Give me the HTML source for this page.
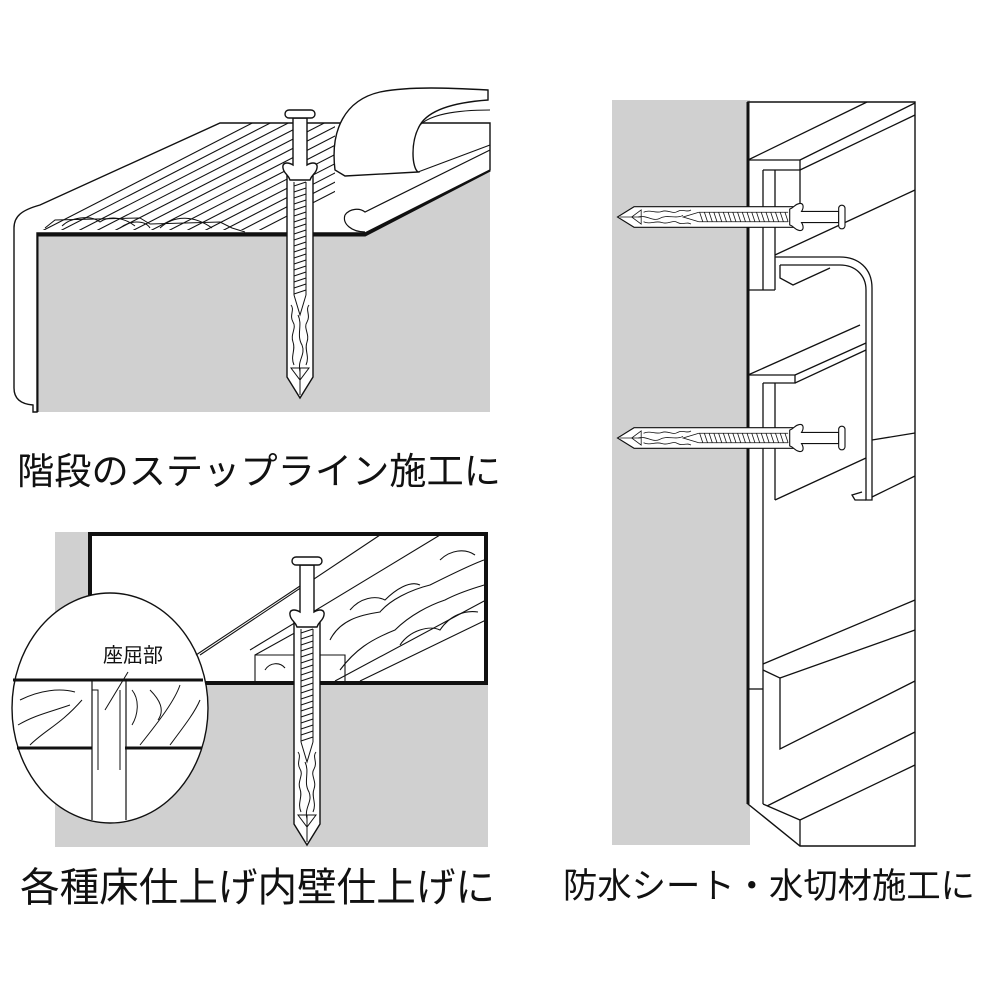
<!DOCTYPE html>
<html><head><meta charset="utf-8">
<style>
html,body{margin:0;padding:0;background:#fff;}
svg{display:block;}
text{font-family:"Liberation Sans","Noto Sans CJK JP",sans-serif;fill:#111;}
</style></head>
<body>
<svg width="1000" height="1000" viewBox="0 0 1000 1000" xmlns="http://www.w3.org/2000/svg">
<defs>
  <g id="nail" stroke="#111" stroke-width="1.4" fill="#fff">
    <polygon points="-13,62 13,62 13,267 0,288 -13,267"/>
    <path d="M-7,8 L-7,55 C-12,52 -18,52 -17,58 C-16,64 -12,64 -10,70 L10,70 C12,64 16,64 17,58 C18,52 12,52 7,55 L7,8 Z"/>
    <rect x="-15" y="0" width="30" height="8" rx="4"/>
    <g stroke-width="1">
      <line x1="-6" y1="72" x2="-6" y2="185"/><line x1="6" y1="72" x2="6" y2="185"/>
      <path d="M-6,76 L6,72 M-6,82 L6,78 M-6,88 L6,84 M-6,94 L6,90 M-6,100 L6,96 M-6,106 L6,102 M-6,112 L6,108 M-6,118 L6,114 M-6,124 L6,120 M-6,130 L6,126 M-6,136 L6,132 M-6,142 L6,138 M-6,148 L6,144 M-6,154 L6,150 M-6,160 L6,156 M-6,166 L6,162 M-6,172 L6,168 M-6,178 L6,174 M-6,184 L6,180"/>
      <path d="M-6,185 L0,205 L6,185" fill="none"/>
      <path d="M-9,195 C-5,200 -11,205 -7,212 C-3,218 -10,224 -7,232 C-4,240 -10,246 -6,255 M9,195 C5,200 11,205 7,212 C3,218 10,224 7,232 C4,240 10,246 6,255 M-2,205 C3,215 -4,225 2,235 C6,245 -3,250 0,262 M-9,258 L9,258 L0,270 Z" fill="none"/>
      <line x1="0" y1="258" x2="0" y2="285"/>
    </g>
  </g>
  <clipPath id="topface"><polygon points="22,212 220,123 335,123 335,200 365,200 365,230 35,230"/></clipPath>
</defs>

<!-- ===== Panel 1 ===== -->
<polygon points="37,235 365,235 490,170 490,412 37,412" fill="#d0d0d0"/>
<!-- nosing -->
<path d="M37,235 L37,412" stroke="#111" stroke-width="3" fill="none"/>
<path d="M37,235 L365,235 L490,170" stroke="#111" stroke-width="3" fill="none"/>
<path d="M33,412 L33,405 C20,404 14,398 14,388 L14,228 C14,216 22,210 40,205 L220,123 L490,123 L490,170 L365,233 L37,233 L37,412 Z" fill="#fff" stroke="#111" stroke-width="1.4"/>
<g clip-path="url(#topface)" stroke="#111" stroke-width="1.1">
  <line x1="40" y1="232" x2="264" y2="117"/><line x1="58" y1="232" x2="282" y2="117"/>
  <line x1="76" y1="232" x2="300" y2="117"/><line x1="94" y1="232" x2="318" y2="117"/>
  <line x1="112" y1="232" x2="336" y2="117"/><line x1="130" y1="232" x2="354" y2="117"/>
  <line x1="148" y1="232" x2="372" y2="117"/><line x1="166" y1="232" x2="390" y2="117"/>
  <line x1="184" y1="232" x2="408" y2="117"/><line x1="202" y1="232" x2="426" y2="117"/>
  <line x1="220" y1="232" x2="444" y2="117"/><line x1="238" y1="232" x2="462" y2="117"/>
  <line x1="256" y1="232" x2="480" y2="117"/>
</g>
<path d="M45,228 L55,220 L140,218 L150,224 L220,222 L232,228 L245,232" fill="none" stroke="#111" stroke-width="1"/>
<path d="M62,226 C70,218 90,214 100,222 C110,215 125,218 135,226 M120,228 C130,220 145,220 150,228 M160,228 C175,214 195,216 212,228" fill="none" stroke="#111" stroke-width="1"/>
<!-- strip groove right -->
<path d="M345,215 C350,208 360,208 365,212 L490,150" fill="none" stroke="#111" stroke-width="1.2"/>
<path d="M345,215 C342,224 352,232 365,232" fill="none" stroke="#111" stroke-width="1.2"/>
<!-- curl -->
<path d="M335,170 C330,130 345,100 380,92 C410,86 450,88 488,90 L488,100 C460,102 430,108 420,125 C410,142 412,168 418,172 L345,176 Z" fill="#fff" stroke="#111" stroke-width="1.4"/>
<path d="M420,125 C430,115 455,110 490,110" fill="none" stroke="#111" stroke-width="1.1"/>
<path d="M418,172 L490,145" fill="none" stroke="#111" stroke-width="1.1"/>
<use href="#nail" transform="translate(300,110)"/>
<text x="17" y="484" font-size="37" textLength="484" lengthAdjust="spacingAndGlyphs">階段のステップライン施工に</text>

<!-- ===== Panel 2 ===== -->
<rect x="55" y="532" width="433" height="315" fill="#d0d0d0"/>
<rect x="90" y="534" width="396" height="149" fill="#fff" stroke="#111" stroke-width="4"/>
<g stroke="#111" stroke-width="1.1" fill="none">
  <line x1="200" y1="655" x2="380" y2="535"/>
  <line x1="250" y1="650" x2="440" y2="535"/>
  <line x1="335" y1="681" x2="486" y2="600"/>
  <line x1="360" y1="681" x2="486" y2="620"/>
  <polyline points="255,681 255,655 345,655 345,681"/>
  <line x1="255" y1="655" x2="300" y2="630"/>
  <path d="M330,640 C340,620 360,615 380,612 C390,600 410,590 430,585 C450,575 470,565 484,560 M340,670 C355,650 370,640 395,630 C410,615 430,605 445,600 C460,592 475,588 484,585 M350,610 C360,598 375,595 385,600 C395,590 410,580 420,585 M400,645 C410,630 430,625 440,630 C450,615 465,610 478,612 M265,670 C270,662 280,662 285,668 M440,560 C450,550 465,548 475,555"/>
</g>
<ellipse cx="110" cy="708" rx="98" ry="115" fill="#fff" stroke="#111" stroke-width="1.4"/>
<line x1="196" y1="655" x2="300" y2="586" stroke="#111" stroke-width="1.1"/>
<g stroke="#111" fill="none">
  <line x1="13" y1="680" x2="203" y2="680" stroke-width="3"/>
  <line x1="17" y1="748" x2="92" y2="748" stroke-width="3"/>
  <line x1="125" y1="748" x2="202" y2="748" stroke-width="3"/>
  <line x1="92" y1="680" x2="92" y2="820" stroke-width="1.2"/>
  <line x1="126" y1="680" x2="126" y2="820" stroke-width="1.2"/>
  <path d="M92,690 L98,690 L98,770 M120,690 L120,770" stroke-width="1"/>
  <path d="M20,700 C40,690 60,688 75,692 M18,725 C35,715 50,712 70,705 M30,745 C45,730 60,725 82,700 M150,690 C160,700 165,710 158,720 M140,745 C160,720 175,700 180,685 M170,745 C185,725 195,712 200,700 M132,690 C140,700 138,715 132,725" stroke-width="1"/>
  <line x1="105" y1="710" x2="128" y2="672" stroke-width="1"/>
</g>
<text x="103" y="662" font-size="20">座屈部</text>
<use href="#nail" transform="translate(307,557)"/>
<text x="20" y="901" font-size="40" textLength="475" lengthAdjust="spacingAndGlyphs">各種床仕上げ内壁仕上げに</text>

<!-- ===== Panel 3 ===== -->
<rect x="612" y="100" width="138" height="745" fill="#d0d0d0"/>
<polygon points="748,102 915,102 915,846 800,846 748,804" fill="#fff" stroke="#111" stroke-width="1.4"/>
<line x1="748" y1="102" x2="748" y2="804" stroke="#111" stroke-width="3"/>
<g stroke="#111" stroke-width="1.3" fill="none">
  <!-- top shelf -->
  <polyline points="748,160 867,102"/>
  <polyline points="748,160 800,160 800,170 763,170"/>
  <line x1="800" y1="160" x2="915" y2="103"/>
  <line x1="800" y1="170" x2="915" y2="115"/>
  <!-- channel 1 -->
  <line x1="763" y1="170" x2="763" y2="290"/>
  <line x1="775" y1="170" x2="775" y2="290"/>
  <line x1="748" y1="290" x2="775" y2="290"/>
  <line x1="775" y1="255" x2="915" y2="190"/>
  <line x1="800" y1="170" x2="800" y2="205"/>
  <path d="M775,257 L840,257 C858,257 872,268 872,288 L872,500 L866,500 L866,290 C866,275 855,265 840,265 L780,265"/>
  <path d="M780,265 L780,278 L793,285 L830,268"/>
  <path d="M866,500 L855,500 L852,495 L862,492"/>
  <!-- second shelf -->
  <polyline points="748,375 860,325"/>
  <polyline points="748,375 795,375 795,383 763,383"/>
  <line x1="795" y1="375" x2="866" y2="343"/>
  <line x1="795" y1="383" x2="866" y2="350"/>
  <line x1="763" y1="383" x2="763" y2="689"/>
  <line x1="775" y1="383" x2="775" y2="500"/>
  <line x1="775" y1="500" x2="866" y2="458"/>
  <line x1="872" y1="497" x2="915" y2="476"/>
  <line x1="872" y1="440" x2="915" y2="433"/>
  <!-- lower -->
  <line x1="763" y1="664" x2="915" y2="600"/>
  <polyline points="763,670 780,678 780,749 915,681"/>
  <line x1="780" y1="678" x2="915" y2="630"/>
  <polyline points="748,689 763,689"/>
  <line x1="763" y1="689" x2="763" y2="804"/>
  <polyline points="763,804 800,820 915,765"/>
  <line x1="767" y1="806" x2="915" y2="732"/>
  <line x1="800" y1="846" x2="800" y2="820"/>
</g>
<use href="#nail" transform="translate(845,217) rotate(90) scale(0.79)"/>
<use href="#nail" transform="translate(845,438) rotate(90) scale(0.79)"/>
<text x="563" y="898" font-size="35" textLength="412" lengthAdjust="spacingAndGlyphs">防水シート・水切材施工に</text>
</svg>
</body></html>
